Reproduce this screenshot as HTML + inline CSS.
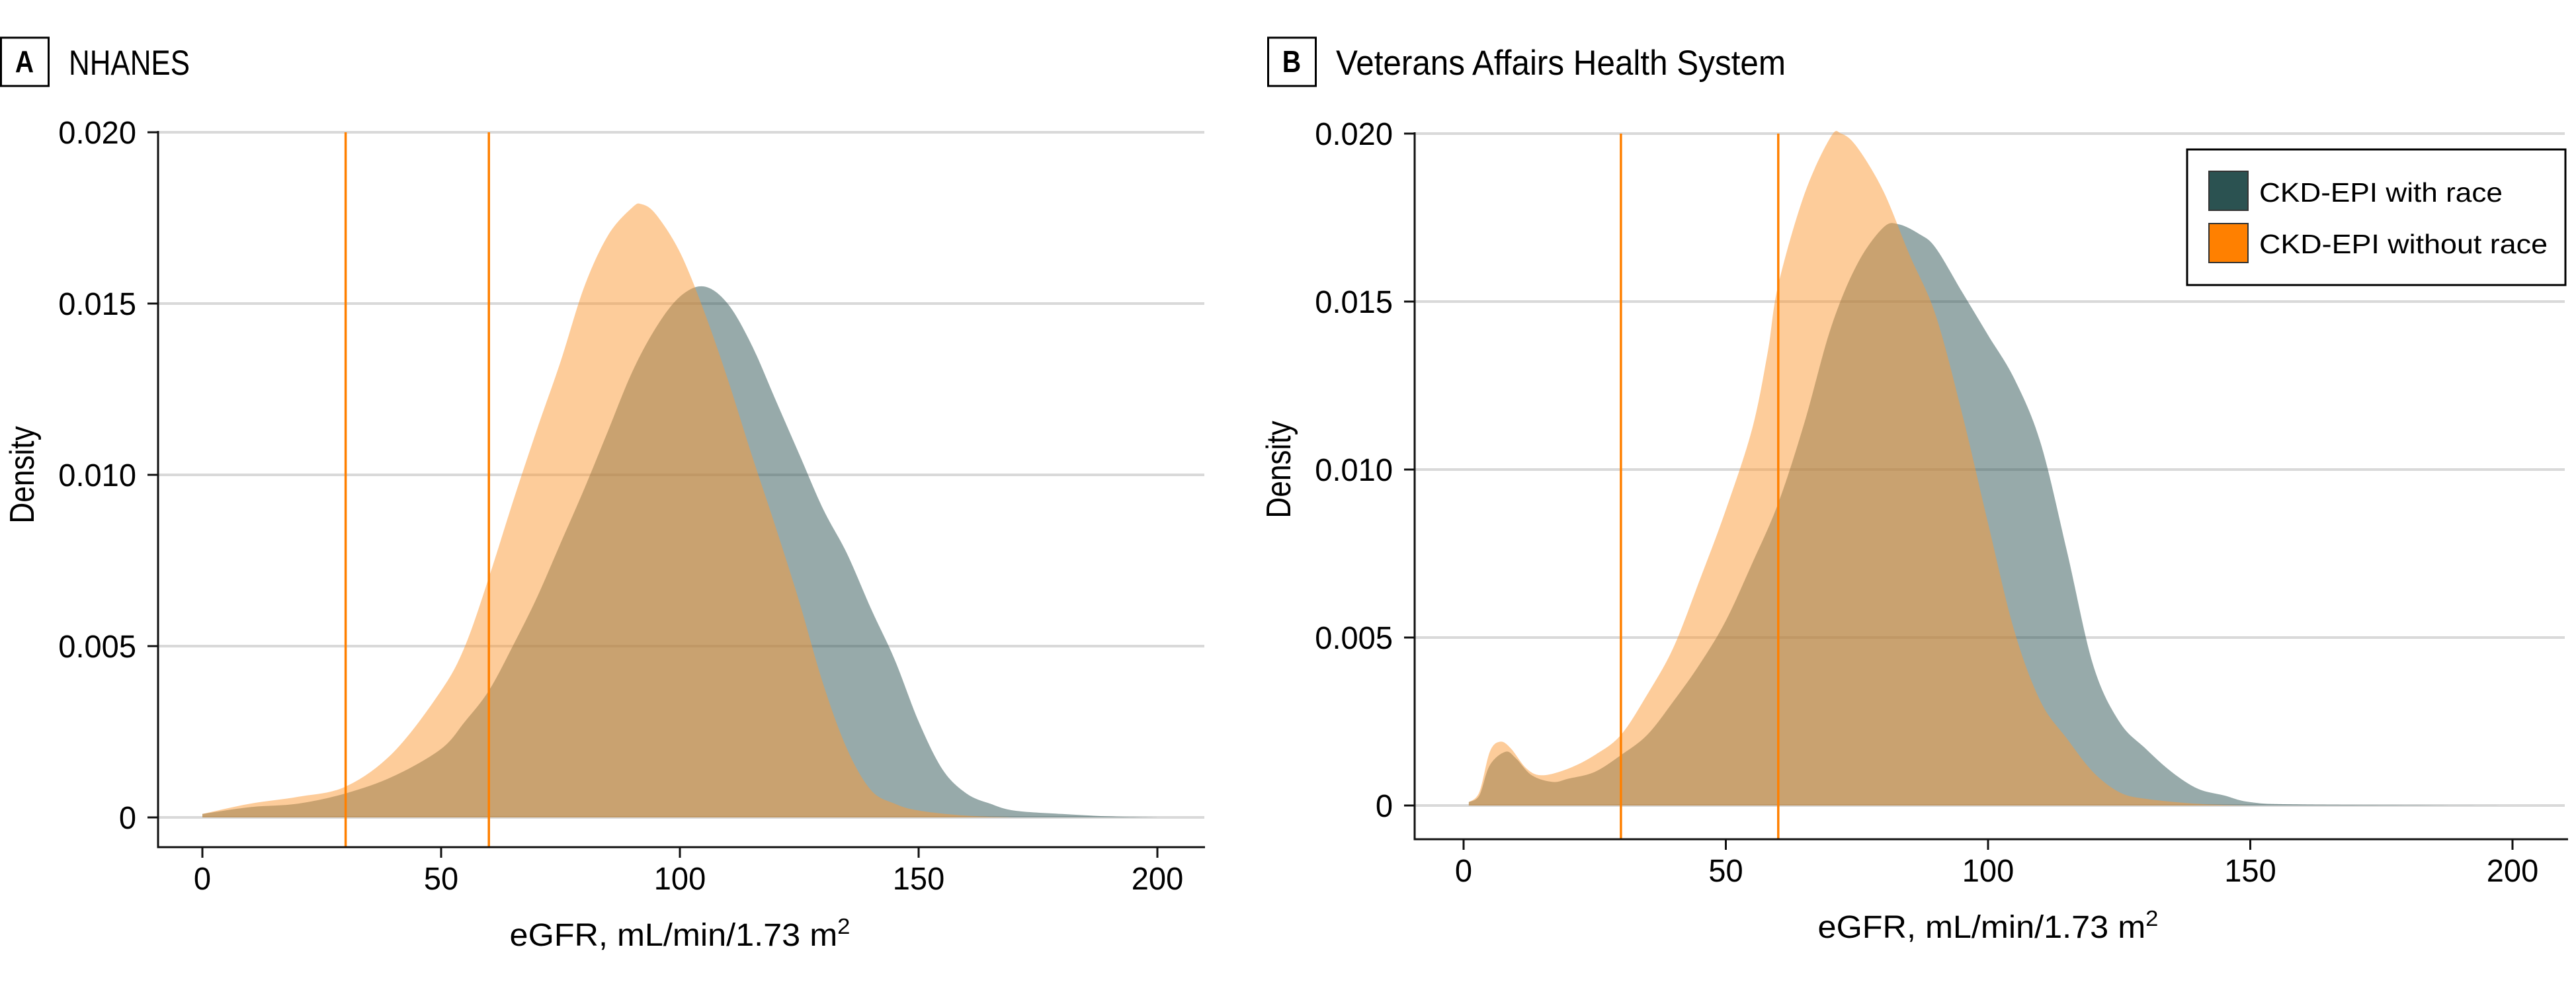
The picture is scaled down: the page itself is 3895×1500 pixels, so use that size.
<!DOCTYPE html>
<html><head><meta charset="utf-8">
<style>
html,body{margin:0;padding:0;background:#fff;}
svg{display:block;font-family:"Liberation Sans",sans-serif;}
</style></head>
<body>
<svg id="chart" width="3895" height="1500" viewBox="0 0 3895 1500" xmlns="http://www.w3.org/2000/svg">
  <g>
    <rect x="1.5" y="57" width="72" height="73" fill="none" stroke="#000" stroke-width="3"/>
    <text transform="translate(37,109) scale(0.85,1)" font-size="46" font-weight="bold" text-anchor="middle">A</text>
    <text x="104" y="113" font-size="53" textLength="183" lengthAdjust="spacingAndGlyphs">NHANES</text>
  </g>
  <g>
    <rect x="1917.5" y="57" width="72" height="73" fill="none" stroke="#000" stroke-width="3"/>
    <text transform="translate(1953,109) scale(0.85,1)" font-size="46" font-weight="bold" text-anchor="middle">B</text>
    <text x="2020" y="113" font-size="53" textLength="680" lengthAdjust="spacingAndGlyphs">Veterans Affairs Health System</text>
  </g>
  <g id="panelA"></g>
  <g id="panelB"></g>
  <g id="legend">
    <rect x="3307" y="226" width="572" height="205" fill="#fff" stroke="#000" stroke-width="3"/>
    <rect x="3340" y="259" width="59" height="59" fill="#2b5251" stroke="#333" stroke-width="2"/>
    <text x="3416" y="305" font-size="41" textLength="368" lengthAdjust="spacingAndGlyphs">CKD-EPI with race</text>
    <rect x="3340" y="338" width="59" height="59" fill="#ff8000" stroke="#333" stroke-width="2"/>
    <text x="3416" y="383" font-size="41" textLength="436" lengthAdjust="spacingAndGlyphs">CKD-EPI without race</text>
  </g>
</svg>
<script>
const xTicks = [0, 50, 100, 150, 200];
const yTicks = [0, 0.005, 0.010, 0.015, 0.020];
const yTickLabels = ["0", "0.005", "0.010", "0.015", "0.020"];
const refLines = [30, 60];

const aX = [0,10,20,30,40,50,55,60,65,70,75,80,85,90,92,95,100,105,110,115,120,125,130,135,140,145,150,160,170];
const aWithout = [0.0001,0.0004,0.0006,0.0009,0.0019,0.0037,0.005,0.007,0.0092,0.0113,0.0133,0.0155,0.0170,0.0178,0.0179,0.0176,0.0165,0.0148,0.0128,0.0106,0.0085,0.0063,0.0039,0.002,0.0008,0.0004,0.0002,0.00005,0];
const aX2 = [0,10,20,30,40,50,55,60,65,70,75,80,85,90,95,100,105,110,115,120,125,130,135,140,145,150,155,160,165,170,180,190,200];
const aWith = [0.0001,0.0003,0.0004,0.0007,0.0012,0.002,0.0028,0.0037,0.005,0.0064,0.008,0.0096,0.0113,0.013,0.0143,0.0152,0.0155,0.015,0.0138,0.0122,0.0106,0.0090,0.0077,0.0061,0.0046,0.0028,0.0014,0.0007,0.0004,0.0002,0.0001,0.00003,0];

const bX = [1,3,5,7,9,12,15,20,25,30,35,40,45,50,55,58,60,65,70,72,75,80,85,90,95,100,105,110,115,120,125,130,140,150];
const bWithout = [0.0001,0.0004,0.0016,0.0019,0.0017,0.0011,0.0009,0.0011,0.0015,0.0021,0.0033,0.0047,0.0067,0.0088,0.0112,0.0135,0.0155,0.0182,0.0199,0.020,0.0196,0.0183,0.0164,0.0146,0.0117,0.0084,0.0052,0.0031,0.002,0.001,0.0004,0.0002,0.00005,0];
const bX2 = [1,3,5,8,10,13,17,20,25,30,35,40,45,50,55,60,65,70,75,80,83,87,90,95,100,105,110,115,120,125,130,135,140,145,150,160,200];
const bWith = [0.0001,0.0003,0.0012,0.0016,0.0014,0.0009,0.0007,0.0008,0.001,0.0015,0.0021,0.0031,0.0042,0.0055,0.0072,0.0090,0.0114,0.0142,0.0161,0.0172,0.0173,0.017,0.0166,0.0153,0.014,0.0127,0.0108,0.0076,0.0042,0.0025,0.0017,0.001,0.0005,0.0003,0.0001,0.00003,0];

const NS = "http://www.w3.org/2000/svg";
function mk(parent, tag, attrs) {
  const e = document.createElementNS(NS, tag);
  for (const k in attrs) e.setAttribute(k, attrs[k]);
  parent.appendChild(e);
  return e;
}
function smoothPath(pts) {
  let d = "M" + pts[0][0].toFixed(1) + "," + pts[0][1].toFixed(1);
  for (let i = 0; i < pts.length - 1; i++) {
    const p0 = pts[Math.max(0, i - 1)], p1 = pts[i], p2 = pts[i + 1], p3 = pts[Math.min(pts.length - 1, i + 2)];
    const c1x = p1[0] + (p2[0] - p0[0]) / 6, c1y = p1[1] + (p2[1] - p0[1]) / 6;
    const c2x = p2[0] - (p3[0] - p1[0]) / 6, c2y = p2[1] - (p3[1] - p1[1]) / 6;
    d += "C" + c1x.toFixed(1) + "," + c1y.toFixed(1) + " " + c2x.toFixed(1) + "," + c2y.toFixed(1) + " " + p2[0].toFixed(1) + "," + p2[1].toFixed(1);
  }
  return d;
}
function drawPanel(g, cfg, withXs, withYs, withoutXs, withoutYs, prefix) {
  const sx = v => cfg.x0 + (v / 200) * (cfg.x200 - cfg.x0);
  const sy = v => cfg.y0 - (v / 0.020) * (cfg.y0 - cfg.y20);
  yTicks.forEach((t, i) => {
    const l = mk(g, "line", {x1: cfg.axisX, x2: cfg.gridEnd, y1: sy(t), y2: sy(t), stroke: "#d9d9d9", "stroke-width": 4});
    
    
  });
  function area(xs, ys, fill, op, name) {
    const pts = xs.map((x, i) => [sx(x), sy(ys[i])]);
    let d = smoothPath(pts);
    d += "L" + pts[pts.length - 1][0].toFixed(1) + "," + sy(0) + "L" + pts[0][0].toFixed(1) + "," + sy(0) + "Z";
    const p = mk(g, "path", {d: d, fill: fill, "fill-opacity": op});
    
    
  }
  area(withXs, withYs, "#2b5251", 0.49, prefix + "-area-with-race");
  area(withoutXs, withoutYs, "#fb9935", 0.5, prefix + "-area-without-race");
  refLines.forEach(v => {
    const l = mk(g, "line", {x1: sx(v), x2: sx(v), y1: cfg.y20, y2: cfg.axisY, stroke: "#ff8000", "stroke-width": 3.5});
    
    
  });
  const ya = mk(g, "line", {x1: cfg.axisX, x2: cfg.axisX, y1: cfg.y20 - 2, y2: cfg.axisY + 1.5, stroke: "#111", "stroke-width": 3});
  
  
  const xa = mk(g, "line", {x1: cfg.axisX - 1.5, x2: cfg.right, y1: cfg.axisY, y2: cfg.axisY, stroke: "#111", "stroke-width": 3});
  
  
  yTicks.forEach((t, i) => {
    const tk = mk(g, "line", {x1: cfg.axisX - 16, x2: cfg.axisX, y1: sy(t), y2: sy(t), stroke: "#111", "stroke-width": 3});
    
    
    const tx = mk(g, "text", {transform: "translate(" + (cfg.axisX - 33) + "," + (sy(t) + 17) + ") scale(0.98,1)", "font-size": 48, "text-anchor": "end"});
    tx.textContent = yTickLabels[i];
    
    
  });
  xTicks.forEach(t => {
    const tk = mk(g, "line", {x1: sx(t), x2: sx(t), y1: cfg.axisY, y2: cfg.axisY + 16, stroke: "#111", "stroke-width": 3});
    
    
    const tx = mk(g, "text", {transform: "translate(" + sx(t) + "," + (cfg.axisY + 64) + ") scale(0.98,1)", "font-size": 48, "text-anchor": "middle"});
    tx.textContent = String(t);
    
    
  });
  const xt = mk(g, "text", {transform: "translate(" + sx(100) + "," + (cfg.axisY + 149) + ") scale(1.05,1)", "font-size": 48, "text-anchor": "middle"});
  xt.innerHTML = 'eGFR, mL/min/1.73 m<tspan font-size="33" dy="-18">2</tspan>';
  
  
  const cy = (cfg.y20 + cfg.y0) / 2;
  const yt = mk(g, "text", {x: 0, y: 0, "font-size": 52, "text-anchor": "middle", transform: "translate(" + (cfg.axisX - 188) + "," + cy + ") rotate(-90) scale(0.85,1)"});
  yt.textContent = "Density";
  
  
}
drawPanel(document.getElementById("panelA"),
  {axisX: 239, right: 1822, gridEnd: 1821, x0: 306, x200: 1750, y0: 1236, y20: 200, axisY: 1281},
  aX2, aWith, aX, aWithout, "panel-a");
drawPanel(document.getElementById("panelB"),
  {axisX: 2139, right: 3883, gridEnd: 3878, x0: 2213, x200: 3799, y0: 1218, y20: 202, axisY: 1269},
  bX2, bWith, bX, bWithout, "panel-b");
const chart = document.getElementById("chart");
chart.appendChild(document.getElementById("legend"));
</script>
</body></html>
